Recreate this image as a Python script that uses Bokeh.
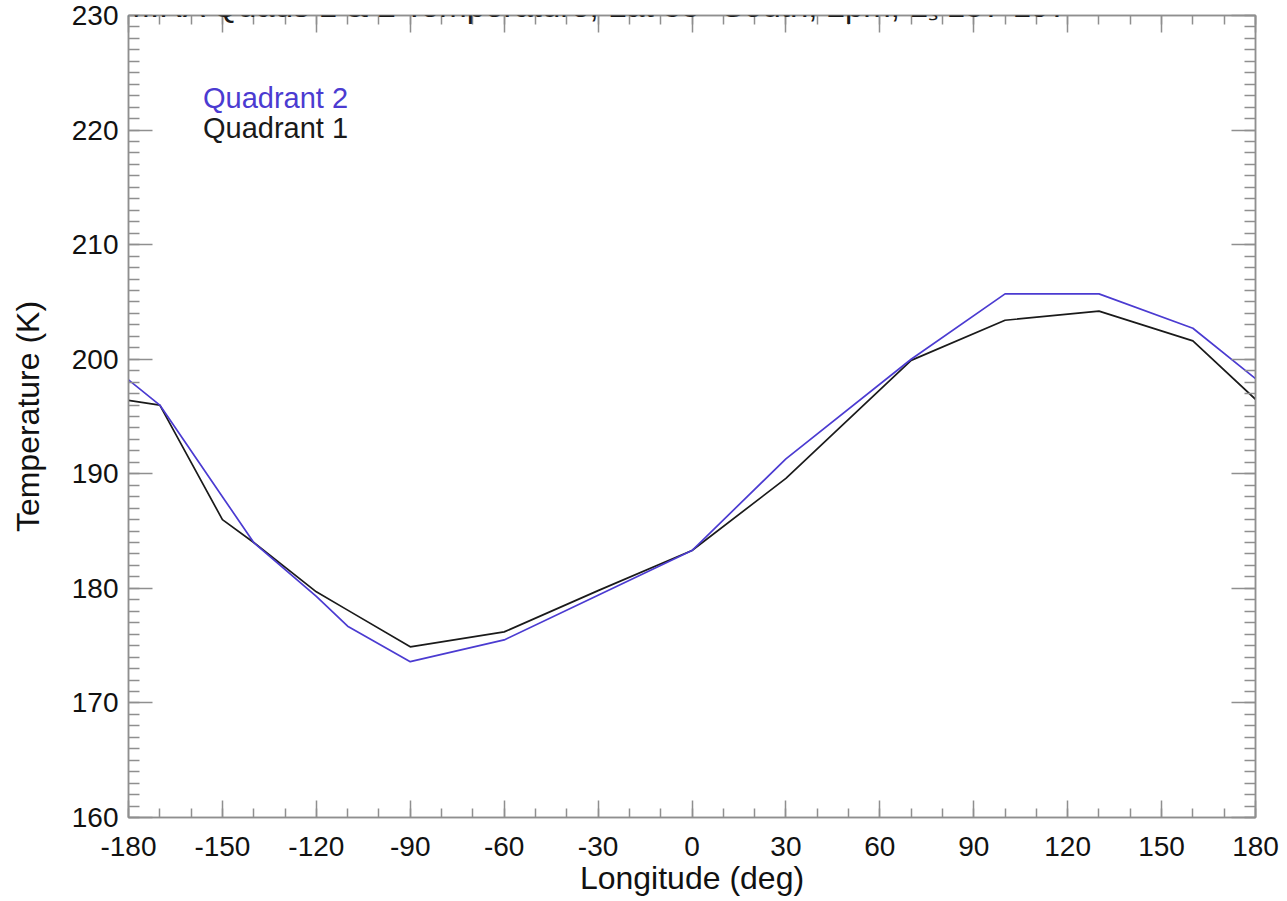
from bokeh.plotting import figure
from bokeh.models import Range1d, FixedTicker, LinearAxis, Label
from bokeh.embed import file_html
from bokeh.resources import INLINE

# ---- data ----
longitude = [-180, -170, -150, -140, -120, -110, -90, -60, -30, 0, 30, 70, 100, 130, 160, 180]
quadrant1 = [196.4, 196.0, 186.0, 184.0, 179.7, 178.1, 174.9, 176.2, 179.8, 183.3, 189.6, 199.9, 203.4, 204.2, 201.6, 196.5]
quadrant2 = [198.2, 196.0, 188.0, 184.0, 179.3, 176.7, 173.6, 175.5, 179.4, 183.3, 191.3, 200.0, 205.7, 205.7, 202.7, 198.3]

x_ticks = [-180, -150, -120, -90, -60, -30, 0, 30, 60, 90, 120, 150, 180]
x_tick_labels = ["-180", "-150", "-120", "-90", "-60", "-30", "0", "30", "60", "90", "120", "150", "180"]
x_minor = list(range(-180, 181, 10))
y_ticks = [160, 170, 180, 190, 200, 210, 220, 230]
y_tick_labels = ["160", "170", "180", "190", "200", "210", "220", "230"]
y_minor = list(range(160, 231, 1))

title_text = "MIRA Quads 1 & 2 Temperature, Lat 55\u00b0 South, 2pm, L\u209b 157-197"
x_label = "Longitude (deg)"
y_label = "Temperature (K)"
series_names = ["Quadrant 2", "Quadrant 1"]

BLUE = "#4b3bd1"
BLACK = "#1a1a1a"
GRAY = "#8f8f8f"
FONT = "Liberation Sans"

p = figure(width=1287, height=901, output_backend="svg", toolbar_location=None,
           x_range=Range1d(-180, 180), y_range=Range1d(160, 230),
           x_axis_type=None, y_axis_type=None,
           min_border_left=128, min_border_right=32, min_border_top=15, min_border_bottom=84)
p.outline_line_color = GRAY
p.outline_line_width = 1.5
p.background_fill_color = "white"
p.border_fill_color = "white"


def make_axis(ticks, minor, major_in, minor_in):
    ax = LinearAxis(ticker=FixedTicker(ticks=ticks, minor_ticks=minor))
    ax.axis_line_color = GRAY
    ax.axis_line_width = 1.5
    ax.major_tick_line_color = GRAY
    ax.major_tick_line_width = 1.5
    ax.minor_tick_line_color = GRAY
    ax.minor_tick_line_width = 1.5
    ax.major_tick_in = major_in
    ax.major_tick_out = 0
    ax.minor_tick_in = minor_in
    ax.minor_tick_out = 0
    ax.major_label_text_font = FONT
    ax.major_label_text_font_size = "28px"
    ax.major_label_text_color = "#111111"
    ax.axis_label_text_font = FONT
    ax.axis_label_text_font_size = "32px"
    ax.axis_label_text_font_style = "normal"
    ax.axis_label_text_color = "#111111"
    return ax


def hide_labels(ax):
    ax.major_label_text_color = None
    ax.major_label_text_alpha = 0
    ax.major_label_text_font_size = "0px"
    ax.major_label_standoff = 0


bottom = make_axis(x_ticks, x_minor, 17, 9)
bottom.axis_label = x_label
bottom.major_label_overrides = {t: s for t, s in zip(x_ticks, x_tick_labels)}
bottom.major_label_standoff = 19
bottom.axis_label_standoff = 1
p.add_layout(bottom, "below")

left = make_axis(y_ticks, y_minor, 24, 11)
left.axis_label = y_label
left.major_label_overrides = {t: s for t, s in zip(y_ticks, y_tick_labels)}
left.major_label_standoff = 10
left.axis_label_standoff = 23
p.add_layout(left, "left")

top = make_axis(x_ticks, x_minor, 17, 9)
hide_labels(top)
p.add_layout(top, "above")
right = make_axis(y_ticks, y_minor, 24, 11)
hide_labels(right)
p.add_layout(right, "right")

# series lines
p.line(longitude, quadrant1, line_color=BLACK, line_width=1.7)
p.line(longitude, quadrant2, line_color=BLUE, line_width=1.7)

# legend text (IDL style, text only)
p.add_layout(Label(x=-156.2, y=222.8, text=series_names[0], text_color=BLUE,
                   text_font=FONT, text_font_size="29px", text_baseline="alphabetic"))
p.add_layout(Label(x=-156.2, y=220.2, text=series_names[1], text_color=BLACK,
                   text_font=FONT, text_font_size="29px", text_baseline="alphabetic"))

# title, mostly cut off at the top of the page as in the original
p.add_layout(Label(x=-6, y=812, x_units="screen", y_units="screen", text=title_text,
                   text_color=BLACK, text_font=FONT, text_font_size="33px",
                   text_baseline="alphabetic", text_align="left"))

open("out.html", "w").write(file_html(p, INLINE))
